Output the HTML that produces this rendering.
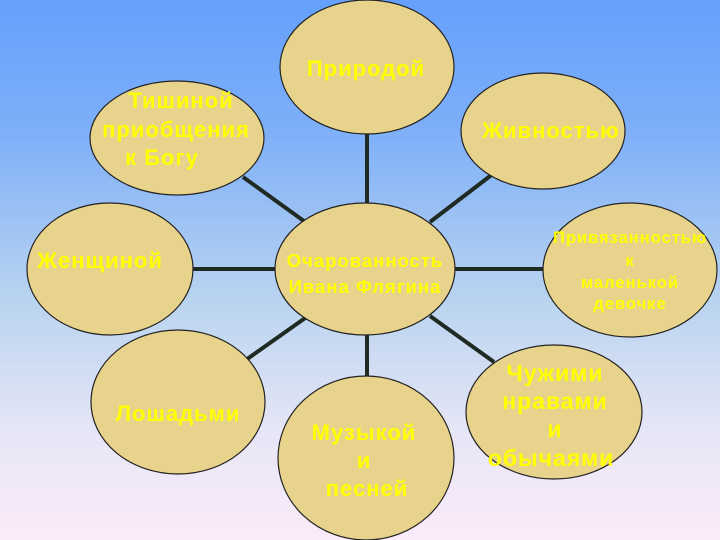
<!DOCTYPE html>
<html><head><meta charset="utf-8"><style>
html,body{margin:0;padding:0}
body{width:720px;height:540px;overflow:hidden;background:linear-gradient(#64a0fc 0%,#7fb0f8 25%,#b8d3f0 55%,#e6e6f6 80%,#fcebfa 100%)}
svg{display:block}
svg text{font-family:"Liberation Sans",Arial,sans-serif;font-weight:bold;fill:#ffff00;text-anchor:middle;letter-spacing:1px}
</style></head><body>
<svg width="720" height="540" viewBox="0 0 720 540">
<g stroke="#1e2a22" stroke-width="4">
<line x1="367" y1="130" x2="367" y2="206"/>
<line x1="367" y1="332" x2="367" y2="378"/>
<line x1="190" y1="269" x2="278" y2="269"/>
<line x1="452" y1="269" x2="546" y2="269"/>
<line x1="243" y1="177" x2="308" y2="224"/>
<line x1="430" y1="222" x2="498" y2="170"/>
<line x1="243" y1="362" x2="308" y2="316"/>
<line x1="430" y1="316" x2="494" y2="362"/>
</g>
<g fill="#e8d38c" stroke="#222" stroke-width="1.2">
<ellipse cx="367" cy="67" rx="87" ry="67"/>
<ellipse cx="177" cy="138" rx="87" ry="57"/>
<ellipse cx="543" cy="131" rx="82" ry="58"/>
<ellipse cx="110" cy="269" rx="83" ry="66"/>
<ellipse cx="365" cy="269" rx="90" ry="66"/>
<ellipse cx="630" cy="270" rx="87" ry="67"/>
<ellipse cx="178" cy="402" rx="87" ry="72"/>
<ellipse cx="366" cy="458" rx="88" ry="82"/>
<ellipse cx="554" cy="412" rx="88" ry="67"/>
</g>
<text x="366" y="76" font-size="22">Природой</text>
<text font-size="22"><tspan x="181" y="108">Тишиной</tspan><tspan x="176" y="137">приобщения</tspan><tspan x="162" y="165">к Богу</tspan></text>
<text x="551" y="138" font-size="22">Живностью</text>
<text x="100" y="268" font-size="22">Женщиной</text>
<text font-size="18.5"><tspan x="365" y="267">Очарованность</tspan><tspan x="365" y="293">Ивана Флягина</tspan></text>
<text font-size="16.5"><tspan x="630" y="243">Привязанностью</tspan><tspan x="630" y="266">к</tspan><tspan x="630" y="288">маленькой</tspan><tspan x="630" y="309">девочке</tspan></text>
<text x="178" y="421" font-size="22">Лошадьми</text>
<text font-size="22"><tspan x="364" y="440">Музыкой</tspan><tspan x="364" y="468">и</tspan><tspan x="367" y="496">песней</tspan></text>
<text font-size="23"><tspan x="555" y="381">Чужими</tspan><tspan x="555" y="409">нравами</tspan><tspan x="555" y="437">и</tspan><tspan x="551" y="466">обычаями</tspan></text>
</svg>
</body></html>
